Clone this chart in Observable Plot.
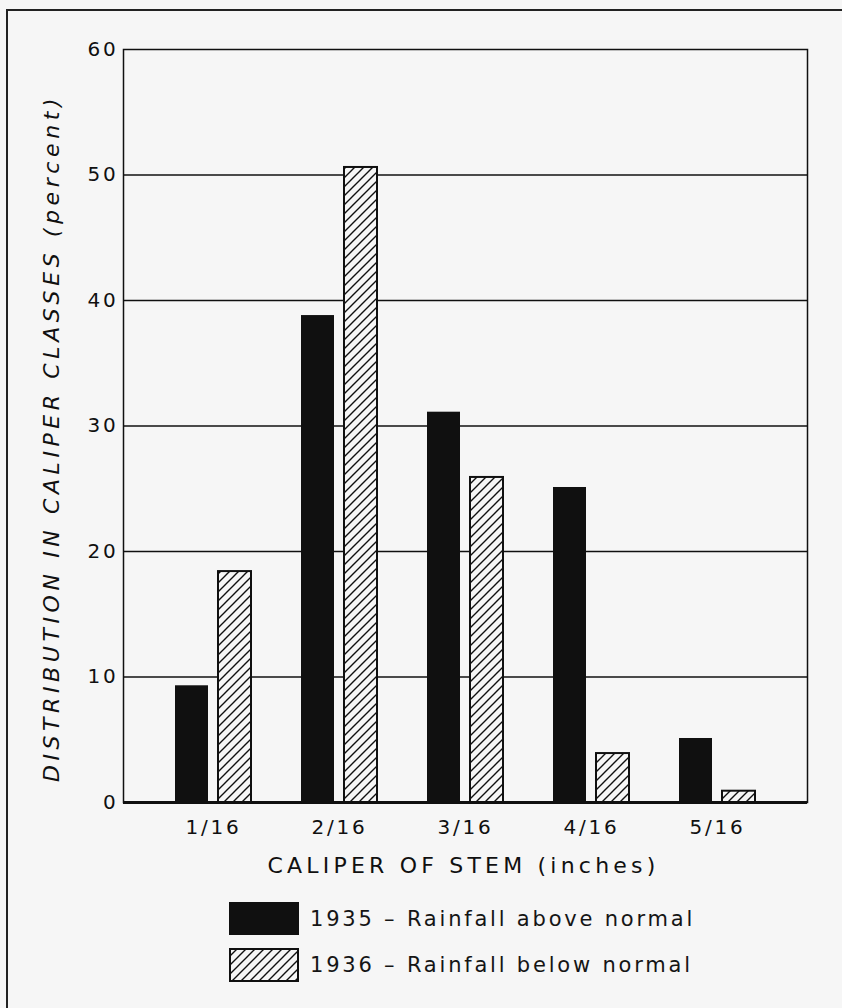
<!DOCTYPE html>
<html>
<head>
<meta charset="utf-8">
<script src="https://cdn.jsdelivr.net/npm/d3@7"></script>
<script src="https://cdn.jsdelivr.net/npm/@observablehq/plot@0.6"></script>
<style>
  html, body { margin: 0; padding: 0; background: #f6f6f6; }
  body { width: 842px; height: 1008px; position: relative; overflow: hidden; font-family: "DejaVu Sans", sans-serif; }
  #page-frame { position: absolute; left: 6px; top: 9px; right: -10px; bottom: -10px; border-top: 2px solid #222; border-left: 2px solid #222; }
  #chart { position: absolute; left: 0; top: 0; }
  #legend { position: absolute; left: 229px; top: 902px; }
  .row { display: flex; align-items: center; height: 33px; }
  .row + .row { margin-top: 13px; }
  .row span { margin-left: 11px; font-size: 21px; letter-spacing: 2.8px; color: #151515; }
</style>
</head>
<body>
<div id="page-frame"></div>
<div id="chart"></div>
<div id="legend"></div>
<script>
// ---- data ----
const categories = ["1/16", "2/16", "3/16", "4/16", "5/16"];
const values1935 = [9.3, 38.8, 31.1, 25.1, 5.1];
const values1936 = [18.4, 50.6, 25.9, 3.9, 0.9];
const yTicks = [0, 10, 20, 30, 40, 50, 60];
const seriesLabels = ["1935 – Rainfall above normal", "1936 – Rainfall below normal"];
const xTitle = "CALIPER OF STEM (inches)";
const yTitle = "DISTRIBUTION IN CALIPER CLASSES (percent)";

const data1935 = categories.map((c, i) => ({cat: c, value: values1935[i]}));
const data1936 = categories.map((c, i) => ({cat: c, value: values1936[i]}));

const ink = "#101010";
const bg = "#f6f6f6";

const chart = Plot.plot({
  width: 842,
  height: 890,
  marginLeft: 123,
  marginRight: 35,
  marginTop: 49,
  marginBottom: 88,
  style: {background: "transparent", fontFamily: "DejaVu Sans", fontSize: "20px", color: ink, overflow: "visible"},
  x: {domain: categories, padding: 0.4, label: null, tickSize: 0, tickPadding: 17},
  y: {domain: [0, 60], ticks: yTicks, label: null, tickSize: 0, tickPadding: 5},
  marks: [
    Plot.ruleY(yTicks.filter(d => d > 0 && d < 60), {stroke: ink, strokeWidth: 1.3}),
    Plot.barY(data1935, {x: "cat", y: "value", fill: ink, insetRight: 43}),
    Plot.barY(data1936, {x: "cat", y: "value", fill: "url(#hatch36)", stroke: ink, strokeWidth: 2, insetLeft: 43}),
    Plot.frame({stroke: ink, strokeWidth: 1.5}),
    Plot.ruleY([0], {stroke: ink, strokeWidth: 3}),
    Plot.text([xTitle], {text: d => d, frameAnchor: "bottom", dy: 63, dx: -2, textAnchor: "middle", lineAnchor: "middle", fontSize: 22, fill: ink}),
    Plot.text([yTitle], {text: d => d, frameAnchor: "left", dx: -72, dy: 12, rotate: -90, textAnchor: "middle", lineAnchor: "middle", fontSize: 22, fontStyle: "italic", fill: ink})
  ]
});

const patternDef = (id) => `
  <pattern id="${id}" patternUnits="userSpaceOnUse" width="9" height="9">
    <rect width="9" height="9" fill="${bg}"></rect>
    <path d="M-1,10 L10,-1 M-3,3 L3,-3 M6,12 L12,6" stroke="${ink}" stroke-width="1.4"></path>
  </pattern>`;

d3.select(chart).insert("defs", ":first-child").html(patternDef("hatch36"));
d3.select(chart).selectAll("text").style("letter-spacing", "2.8px");
d3.select(chart).selectAll("text").filter(function() { return this.textContent === xTitle; }).style("letter-spacing", "4.2px");
d3.select(chart).selectAll("text").filter(function() { return this.textContent === yTitle; }).style("letter-spacing", "4.6px");

document.getElementById("chart").appendChild(chart);

// ---- legend ----
const legend = document.getElementById("legend");
legend.innerHTML = `
  <div class="row">
    <svg width="70" height="33"><rect x="0" y="0" width="70" height="33" fill="${ink}"></rect></svg>
    <span>${seriesLabels[0]}</span>
  </div>
  <div class="row">
    <svg width="70" height="34"><defs>${patternDef("hatchLegend")}</defs>
      <rect x="1" y="1" width="68" height="32" fill="url(#hatchLegend)" stroke="${ink}" stroke-width="2"></rect></svg>
    <span>${seriesLabels[1]}</span>
  </div>`;
</script>
</body>
</html>
